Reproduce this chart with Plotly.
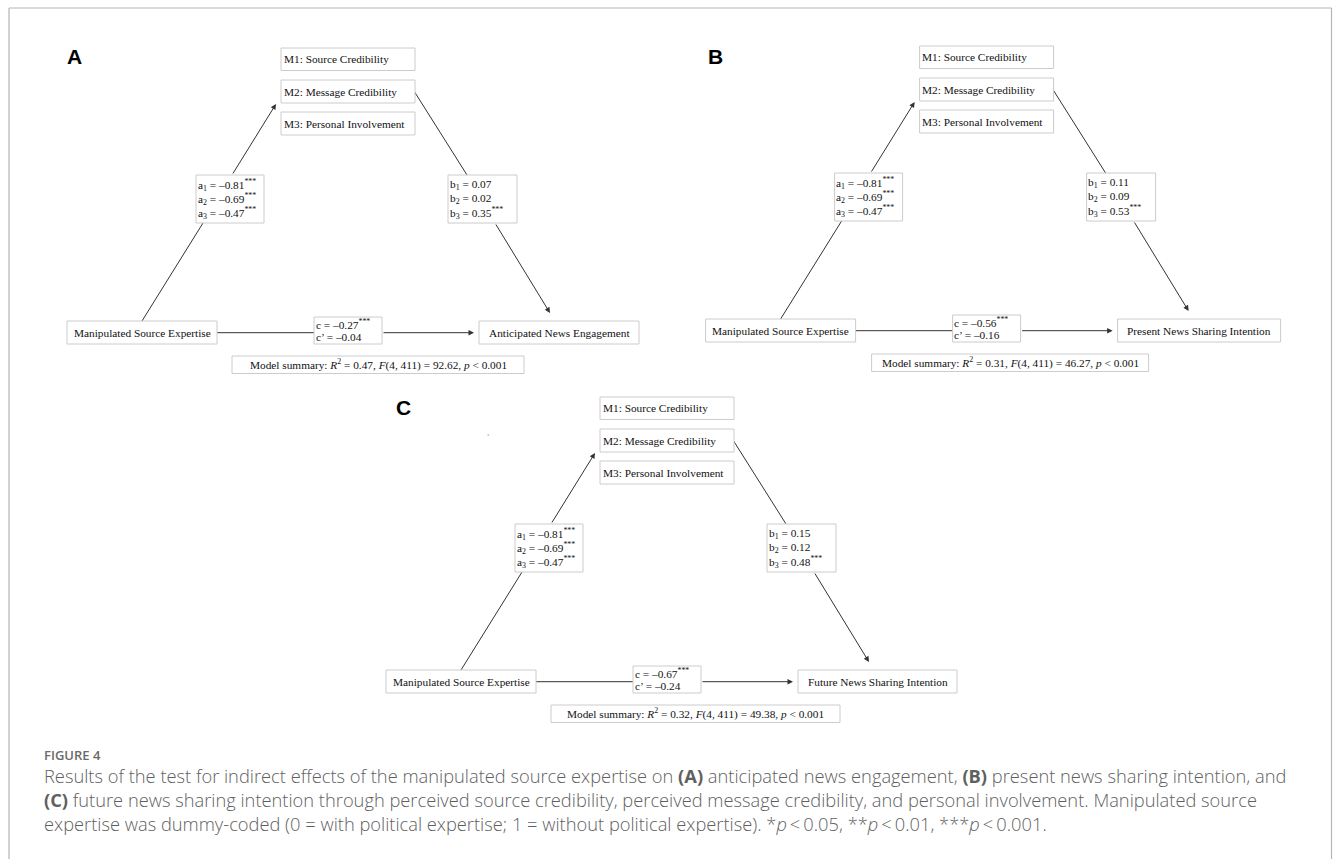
import plotly.graph_objects as go

W, H = 1333, 859

# ---------------- data ----------------
panel_labels = ["A", "B", "C"]
mediators = ["M1: Source Credibility", "M2: Message Credibility", "M3: Personal Involvement"]
predictor = "Manipulated Source Expertise"
outcomes = ["Anticipated News Engagement", "Present News Sharing Intention", "Future News Sharing Intention"]

a_A = [-0.81, -0.69, -0.47]
a_B = [-0.81, -0.69, -0.47]
a_C = [-0.81, -0.69, -0.47]
a_stars = ["***", "***", "***"]

b_A = [0.07, 0.02, 0.35]
b_B = [0.11, 0.09, 0.53]
b_C = [0.15, 0.12, 0.48]
b_stars_A = ["", "", "***"]
b_stars_B = ["", "", "***"]
b_stars_C = ["", "", "***"]

c_total = [-0.27, -0.56, -0.67]
c_total_stars = ["***", "***", "***"]
c_direct = [-0.04, -0.16, -0.24]

r_squared = [0.47, 0.31, 0.32]
f_values = [92.62, 46.27, 49.38]
f_df = (4, 411)
p_model = 0.001

# ---------------- layout geometry (pixels) ----------------
origins = [(281, 48), (919.6, 46), (600, 397)]   # top-left of M1 box per panel
label_pos = [(74, 56), (715, 56), (403, 407)]
out_w = [160, 163, 159]
sum_x0 = [-49, -48, -49]
sum_w = [292, 277, 289]

SERIF = "Liberation Serif"
FS = 11.3
BOX_LINE = "#cccccc"
LINE_C = "#333333"


def num(v):
    return f"{v:.2f}".replace("-", "\u2013")


fig = go.Figure()
shapes = []
anns = []


def rect(x0, y0, x1, y1):
    shapes.append(dict(type="rect", xref="x", yref="y", x0=x0, y0=y0, x1=x1, y1=y1,
                       line=dict(color=BOX_LINE, width=1), fillcolor="white", layer="above"))


def line(x0, y0, x1, y1):
    shapes.append(dict(type="line", xref="x", yref="y", x0=x0, y0=y0, x1=x1, y1=y1,
                       line=dict(color=LINE_C, width=1), layer="above"))


def arrow(x0, y0, x1, y1):
    anns.append(dict(x=x1, y=y1, ax=x0, ay=y0, xref="x", yref="y", axref="x", ayref="y",
                     text="", showarrow=True, arrowhead=2, arrowsize=1.1, arrowwidth=1,
                     arrowcolor=LINE_C, standoff=0, startstandoff=0))


def text(x, y, s, anchor="left", size=FS, family=SERIF, color="#111111", weight=None):
    f = dict(family=family, size=size, color=color)
    if weight:
        f["weight"] = weight
    anns.append(dict(x=x, y=y, xref="x", yref="y", text=s, showarrow=False,
                     xanchor=anchor, yanchor="middle", align="left", font=f, borderpad=0))


a_sets = [a_A, a_B, a_C]
b_sets = [b_A, b_B, b_C]
b_star_sets = [b_stars_A, b_stars_B, b_stars_C]

for k in range(3):
    ox, oy = origins[k]
    # panel label
    text(label_pos[k][0], label_pos[k][1], panel_labels[k], anchor="center", size=21,
         family="Liberation Sans", color="#000000", weight="bold")

    # connecting lines (drawn first)
    line(ox - 78, oy + 175, ox - 139, oy + 273)        # predictor -> a box
    line(ox + 133, oy + 43, ox + 186, oy + 127)         # M2 -> b box
    line(ox - 64, oy + 284.7, ox + 33, oy + 284.7)      # predictor -> c box
    arrow(ox - 49, oy + 127, ox - 5, oy + 56)           # a box -> M2
    arrow(ox + 214, oy + 175, ox + 269, oy + 265)       # b box -> outcome
    arrow(ox + 101, oy + 284.7, ox + 193, oy + 284.7)   # c box -> outcome

    # mediator boxes
    rows = [(0, 22.5), (32, 55), (64, 87)]
    for (y0, y1), m in zip(rows, mediators):
        rect(ox, oy + y0, ox + 134, oy + y1)
        text(ox + 1.5, oy + (y0 + y1) / 2, m)

    # a box
    rect(ox - 85, oy + 127, ox - 17, oy + 175)
    for i, (v, s) in enumerate(zip(a_sets[k], a_stars)):
        text(ox - 84.5, oy + 137 + 14 * i, f"a<sub>{i+1}</sub> = {num(v)}<sup>{s}</sup>")

    # b box
    rect(ox + 167, oy + 127, ox + 236, oy + 175)
    for i, (v, s) in enumerate(zip(b_sets[k], b_star_sets[k])):
        sup = f"<sup>{s}</sup>" if s else ""
        text(ox + 167.5, oy + 137 + 14 * i, f"b<sub>{i+1}</sub> = {num(v)}{sup}")

    # predictor box
    rect(ox - 214, oy + 273, ox - 64, oy + 296)
    text(ox - 139, oy + 284.5, predictor, anchor="center")

    # c box
    rect(ox + 33, oy + 269, ox + 101, oy + 296)
    text(ox + 33.5, oy + 276, f"c = {num(c_total[k])}<sup>{c_total_stars[k]}</sup>")
    text(ox + 33.5, oy + 289, f"c\u2019 = {num(c_direct[k])}")

    # outcome box
    rect(ox + 198, oy + 273, ox + 198 + out_w[k], oy + 296)
    text(ox + 198 + out_w[k] / 2, oy + 284.5, outcomes[k], anchor="center")

    # model summary box
    sx0 = ox + sum_x0[k]
    rect(sx0, oy + 308, sx0 + sum_w[k], oy + 325.5)
    summ = (f"Model summary: <i>R</i><sup>2</sup> = {r_squared[k]:.2f}, "
            f"<i>F</i>({f_df[0]}, {f_df[1]}) = {f_values[k]:.2f}, <i>p</i> &lt; {p_model:.3f}")
    text(sx0 + sum_w[k] / 2, oy + 316.7, summ, anchor="center")

# tiny stray dot in panel C
shapes.append(dict(type="circle", xref="x", yref="y", x0=487.3, y0=434, x1=489.3, y1=436,
                   line=dict(width=0), fillcolor="#c8c8c8"))

# outer frame
FRAME = "#b5b5b5"
shapes.append(dict(type="line", xref="x", yref="y", x0=9, y0=8, x1=1331.5, y1=8, line=dict(color=FRAME, width=1.2)))
shapes.append(dict(type="line", xref="x", yref="y", x0=9, y0=8, x1=9, y1=H + 2, line=dict(color=FRAME, width=1.2)))
shapes.append(dict(type="line", xref="x", yref="y", x0=1331.5, y0=8, x1=1331.5, y1=H + 2, line=dict(color=FRAME, width=1.2)))

# caption
CAP = "Open Sans"
CAPC = "#5f5f5f"
TS = "\u2009"
caption_lines = [
    "Results of the test for indirect effects of the manipulated source expertise on <b>(A)</b> anticipated news engagement, <b>(B)</b> present news sharing intention, and",
    "<b>(C)</b> future news sharing intention through perceived source credibility, perceived message credibility, and personal involvement. Manipulated source",
    f"expertise was dummy-coded (0 = with political expertise; 1 = without political expertise). *<i>p</i>{TS}&lt;{TS}0.05, **<i>p</i>{TS}&lt;{TS}0.01, ***<i>p</i>{TS}&lt;{TS}0.001.",
]
text(43, 755, "FIGURE 4", size=13, family=CAP, color="#6a6a6a", weight=600)
text(43, 799.5, "<br>".join(caption_lines), size=18.3, family=CAP, color=CAPC, weight=300)

fig.update_layout(
    width=W, height=H, margin=dict(l=0, r=0, t=0, b=0),
    paper_bgcolor="white", plot_bgcolor="white",
    xaxis=dict(range=[0, W], visible=False, fixedrange=True),
    yaxis=dict(range=[H, 0], visible=False, fixedrange=True),
    shapes=shapes, annotations=anns, showlegend=False,
)

fig.write_html("out.html", config={"displayModeBar": False},
               post_script="document.body.style.margin='0';document.body.style.overflow='hidden';")
